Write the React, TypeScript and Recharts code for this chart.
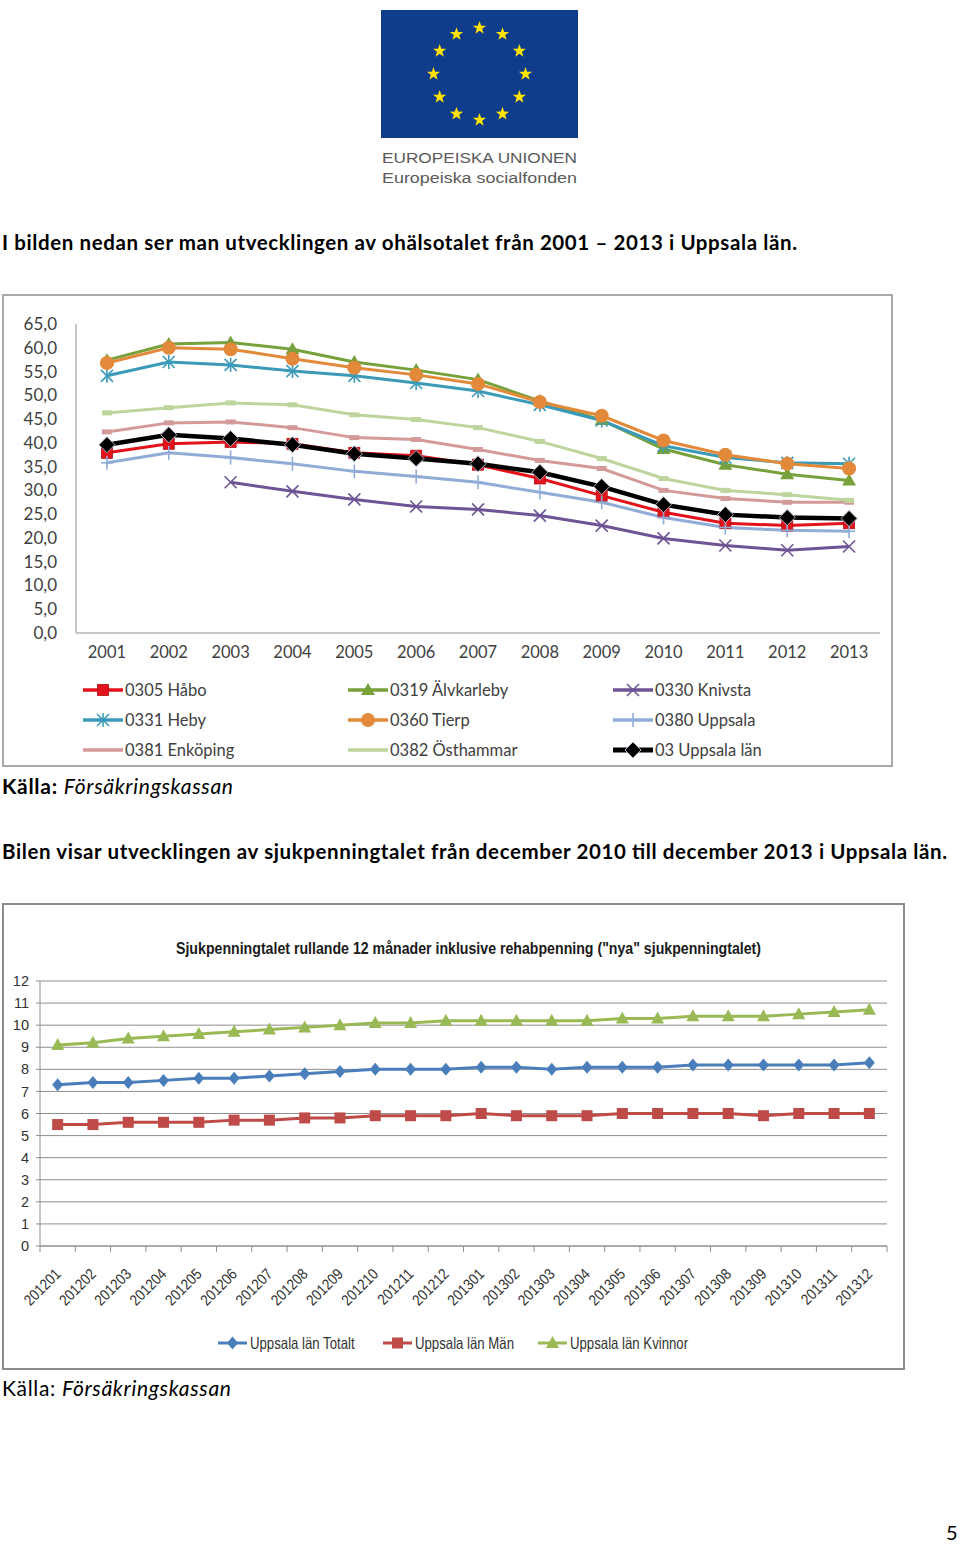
import React from 'react'
import { LineChart, Line, XAxis, YAxis, CartesianGrid } from 'recharts'

// ---- chart 1: ohälsotalet per kommun, 2001-2013
const years = ['2001', '2002', '2003', '2004', '2005', '2006', '2007', '2008', '2009', '2010', '2011', '2012', '2013']
const habo = [37.9, 39.8, 40.2, 39.8, 37.9, 37.3, 35.4, 32.5, 28.9, 25.4, 23.1, 22.6, 23.1]
const alvkarleby = [57.4, 60.8, 61.1, 59.7, 57.0, 55.3, 53.3, 48.8, 44.8, 38.7, 35.4, 33.4, 32.1]
const knivsta = [null, null, 31.7, 29.8, 28.1, 26.6, 26.0, 24.7, 22.6, 19.9, 18.4, 17.4, 18.2]
const heby = [54.1, 57.0, 56.4, 55.1, 54.1, 52.6, 50.9, 48.0, 44.7, 39.4, 36.9, 35.8, 35.6]
const tierp = [56.8, 60.0, 59.7, 57.7, 55.8, 54.3, 52.4, 48.6, 45.7, 40.5, 37.5, 35.6, 34.6]
const uppsala = [35.8, 37.9, 36.9, 35.6, 34.0, 32.9, 31.7, 29.6, 27.5, 24.3, 22.2, 21.6, 21.4]
const enkoping = [42.3, 44.2, 44.4, 43.2, 41.1, 40.7, 38.6, 36.3, 34.6, 30.0, 28.3, 27.5, 27.5]
const osthammar = [46.3, 47.4, 48.4, 48.0, 45.9, 44.9, 43.2, 40.3, 36.7, 32.5, 30.0, 29.1, 27.9]
const uppsalaLan = [39.6, 41.7, 40.9, 39.6, 37.7, 36.7, 35.6, 33.8, 30.8, 27.0, 24.9, 24.3, 24.1]
const ticks1 = [0, 5, 10, 15, 20, 25, 30, 35, 40, 45, 50, 55, 60, 65]

// ---- chart 2: sjukpenningtalet per månad
const months = [
  '201201', '201202', '201203', '201204', '201205', '201206', '201207', '201208', '201209', '201210', '201211', '201212',
  '201301', '201302', '201303', '201304', '201305', '201306', '201307', '201308', '201309', '201310', '201311', '201312'
]
const totalt = [7.3, 7.4, 7.4, 7.5, 7.6, 7.6, 7.7, 7.8, 7.9, 8.0, 8.0, 8.0, 8.1, 8.1, 8.0, 8.1, 8.1, 8.1, 8.2, 8.2, 8.2, 8.2, 8.2, 8.3]
const man = [5.5, 5.5, 5.6, 5.6, 5.6, 5.7, 5.7, 5.8, 5.8, 5.9, 5.9, 5.9, 6.0, 5.9, 5.9, 5.9, 6.0, 6.0, 6.0, 6.0, 5.9, 6.0, 6.0, 6.0]
const kvinnor = [9.1, 9.2, 9.4, 9.5, 9.6, 9.7, 9.8, 9.9, 10.0, 10.1, 10.1, 10.2, 10.2, 10.2, 10.2, 10.2, 10.3, 10.3, 10.4, 10.4, 10.4, 10.5, 10.6, 10.7]
const ticks2 = [0, 1, 2, 3, 4, 5, 6, 7, 8, 9, 10, 11, 12]

const series1 = [
  { key: 'habo', name: '0305 Håbo', values: habo, color: '#e3121b', shape: 'square', width: 3 },
  { key: 'alvkarleby', name: '0319 Älvkarleby', values: alvkarleby, color: '#77a13b', shape: 'triangle', width: 3 },
  { key: 'knivsta', name: '0330 Knivsta', values: knivsta, color: '#6e5494', shape: 'x', width: 3 },
  { key: 'heby', name: '0331 Heby', values: heby, color: '#3b9ab8', shape: 'star', width: 3 },
  { key: 'tierp', name: '0360 Tierp', values: tierp, color: '#e2893a', shape: 'circle', width: 3 },
  { key: 'uppsala', name: '0380 Uppsala', values: uppsala, color: '#91acd6', shape: 'plus', width: 3 },
  { key: 'enkoping', name: '0381 Enköping', values: enkoping, color: '#d39a99', shape: 'dash', width: 3 },
  { key: 'osthammar', name: '0382 Östhammar', values: osthammar, color: '#bdd59c', shape: 'dash', width: 3 },
  { key: 'uppsalaLan', name: '03 Uppsala län', values: uppsalaLan, color: '#000000', shape: 'diamond', width: 4.5 }
]

const series2 = [
  { key: 'totalt', name: 'Uppsala län Totalt', values: totalt, color: '#4a7ebb', shape: 'diamond2', width: 3 },
  { key: 'man', name: 'Uppsala län Män', values: man, color: '#be4b48', shape: 'square2', width: 3 },
  { key: 'kvinnor', name: 'Uppsala län Kvinnor', values: kvinnor, color: '#98b954', shape: 'triangle2', width: 3 }
]

const data1 = years.map((year, i) => {
  const row: any = { year }
  series1.forEach((s) => (row[s.key] = s.values[i]))
  return row
})

const data2 = months.map((month, i) => {
  const row: any = { month }
  series2.forEach((s) => (row[s.key] = s.values[i]))
  return row
})

const CALIBRI = 'Lato, "Open Sans", sans-serif'
const ARIAL = '"Liberation Sans", Arial, sans-serif'

function marker(shape: string, cx: number, cy: number, color: string, k?: string) {
  switch (shape) {
    case 'square':
      return <rect key={k} x={cx - 5.5} y={cy - 5.5} width={11} height={11} fill={color} stroke='#b01015' strokeWidth={0.8} />
    case 'square2':
      return <rect key={k} x={cx - 5.5} y={cy - 5.5} width={11} height={11} fill={color} />
    case 'triangle':
      return <polygon key={k} points={`${cx},${cy - 7} ${cx + 7},${cy + 5} ${cx - 7},${cy + 5}`} fill={color} />
    case 'triangle2':
      return <polygon key={k} points={`${cx},${cy - 7} ${cx + 6.5},${cy + 5} ${cx - 6.5},${cy + 5}`} fill={color} />
    case 'circle':
      return <circle key={k} cx={cx} cy={cy} r={7} fill={color} />
    case 'diamond':
      return <polygon key={k} points={`${cx},${cy - 8} ${cx + 8},${cy} ${cx},${cy + 8} ${cx - 8},${cy}`} fill='#000' stroke='#b5b5c8' strokeWidth={1} />
    case 'diamond2':
      return <polygon key={k} points={`${cx},${cy - 6.5} ${cx + 5.5},${cy} ${cx},${cy + 6.5} ${cx - 5.5},${cy}`} fill={color} />
    case 'x':
      return (
        <g key={k} stroke={color} strokeWidth={1.6}>
          <line x1={cx - 6} y1={cy - 6} x2={cx + 6} y2={cy + 6} />
          <line x1={cx - 6} y1={cy + 6} x2={cx + 6} y2={cy - 6} />
        </g>
      )
    case 'star':
      return (
        <g key={k} stroke={color} strokeWidth={1.6}>
          <line x1={cx - 6} y1={cy - 6} x2={cx + 6} y2={cy + 6} />
          <line x1={cx - 6} y1={cy + 6} x2={cx + 6} y2={cy - 6} />
          <line x1={cx} y1={cy - 7} x2={cx} y2={cy + 7} />
        </g>
      )
    case 'plus':
      return (
        <g key={k} stroke={color} strokeWidth={1.6}>
          <line x1={cx} y1={cy - 7} x2={cx} y2={cy + 7} />
          <line x1={cx - 6} y1={cy} x2={cx + 6} y2={cy} />
        </g>
      )
    case 'dash':
      return <rect key={k} x={cx - 5} y={cy - 2.5} width={10} height={5} fill={color} />
    default:
      return <g key={k} />
  }
}

const dotFor = (s: any) => (props: any) => {
  const { cx, cy, value, index } = props
  if (value == null || cy == null || isNaN(cy)) return <g key={`${s.key}-${index}`} />
  return marker(s.shape, cx, cy, s.color, `${s.key}-${index}`)
}

// chart 1 geometry
const C1_W = 887
const C1_LEFT = 72
const C1_RIGHT = 11
const BAND1 = (C1_W - C1_LEFT - C1_RIGHT) / years.length

// chart 2 geometry (used for boundary tick marks on the category axis)
const C2_W = 899
const C2_LEFT = 36
const C2_RIGHT = 16
const BAND2 = (C2_W - C2_LEFT - C2_RIGHT) / months.length

const MonthTick = (props: any) => {
  const { x, y, payload, index } = props
  const half = BAND2 / 2
  return (
    <g>
      <line x1={x - half} x2={x - half} y1={y} y2={y + 6} stroke='#8e8e8e' />
      {index === months.length - 1 && <line x1={x + half} x2={x + half} y1={y} y2={y + 6} stroke='#8e8e8e' />}
      <text
        transform={`translate(${x + 4},${y + 29}) rotate(-45) scale(0.86,1)`}
        textAnchor='end'
        fontFamily={ARIAL}
        fontSize={15.5}
        fill='#333'
      >
        {payload.value}
      </text>
    </g>
  )
}

const Chart1 = () => (
  <div
    style={{
      position: 'absolute',
      left: 2,
      top: 294,
      width: 891,
      height: 473,
      border: '2px solid #a9a9a9',
      boxSizing: 'border-box',
      background: '#fff'
    }}
  >
    <LineChart width={C1_W} height={469} data={data1} margin={{ top: 28, right: C1_RIGHT, bottom: 102, left: 0 }}>
      <XAxis
        dataKey='year'
        type='category'
        height={30}
        padding={{ left: BAND1 / 2, right: BAND1 / 2 }}
        axisLine={{ stroke: '#c6c6c6', strokeWidth: 2 }}
        tickLine={false}
        tickSize={0}
        tickMargin={13}
        tick={{ fill: '#404040', fontSize: 16.5, fontFamily: CALIBRI }}
        interval={0}
      />
      <YAxis
        width={C1_LEFT}
        domain={[0, 65]}
        ticks={ticks1}
        interval={0}
        axisLine={{ stroke: '#c6c6c6', strokeWidth: 2 }}
        tickLine={false}
        tickSize={0}
        tickMargin={19}
        tickFormatter={(v: number) => v.toFixed(1).replace('.', ',')}
        tick={{ fill: '#404040', fontSize: 17, fontFamily: CALIBRI }}
      />
      {series1.map((s) => (
        <Line
          key={s.key}
          dataKey={s.key}
          name={s.name}
          stroke={s.color}
          strokeWidth={s.width}
          type='linear'
          dot={dotFor(s)}
          activeDot={false}
          isAnimationActive={false}
        />
      ))}
    </LineChart>
    <svg width={887} height={100} style={{ position: 'absolute', left: 0, top: 375 }}>
      {series1.map((s, i) => {
        const col = i % 3
        const row = Math.floor(i / 3)
        const x0 = [79, 344, 609][col]
        const cy = 19 + row * 30
        return (
          <g key={s.key}>
            <line x1={x0} x2={x0 + 40} y1={cy} y2={cy} stroke={s.color} strokeWidth={s.width + 0.5} />
            {s.shape !== 'dash' && marker(s.shape, x0 + 20, cy, s.color)}
            <text x={x0 + 42} y={cy} dy='0.36em' fontFamily={CALIBRI} fontSize={16.5} fill='#404040'>
              {s.name}
            </text>
          </g>
        )
      })}
    </svg>
  </div>
)

const Chart2 = () => (
  <div
    style={{
      position: 'absolute',
      left: 2,
      top: 903,
      width: 903,
      height: 467,
      border: '2px solid #8c8c8c',
      boxSizing: 'border-box',
      background: '#fff'
    }}
  >
    <LineChart width={C2_W} height={463} data={data2} margin={{ top: 76, right: C2_RIGHT, bottom: 52, left: 0 }}>
      <CartesianGrid vertical={false} stroke='#8e8e8e' />
      <XAxis
        dataKey='month'
        type='category'
        height={70}
        padding={{ left: BAND2 / 2, right: BAND2 / 2 }}
        axisLine={{ stroke: '#8e8e8e' }}
        tickLine={false}
        tickSize={0}
        tickMargin={0}
        tick={<MonthTick />}
        interval={0}
      />
      <YAxis
        width={C2_LEFT}
        domain={[0, 12]}
        ticks={ticks2}
        interval={0}
        axisLine={{ stroke: '#8e8e8e' }}
        tickLine={{ stroke: '#8e8e8e' }}
        tickSize={4}
        tickMargin={7}
        tick={{ fill: '#333', fontSize: 14.5, fontFamily: ARIAL }}
      />
      {series2.map((s) => (
        <Line
          key={s.key}
          dataKey={s.key}
          name={s.name}
          stroke={s.color}
          strokeWidth={s.width}
          type='linear'
          dot={dotFor(s)}
          activeDot={false}
          isAnimationActive={false}
        />
      ))}
    </LineChart>
    <svg width={899} height={30} style={{ position: 'absolute', left: 0, top: 423 }}>
      {series2.map((s, i) => {
        const x0 = [214, 379, 534][i]
        const cy = 15
        return (
          <g key={s.key}>
            <line x1={x0} x2={x0 + 29} y1={cy} y2={cy} stroke={s.color} strokeWidth={3} />
            {marker(s.shape, x0 + 14.5, cy, s.color)}
            <text
              transform={`translate(${x0 + 32},${cy}) scale(0.8,1)`}
              dy='0.36em'
              fontFamily={ARIAL}
              fontSize={16.5}
              fill='#333'
            >
              {s.name}
            </text>
          </g>
        )
      })}
    </svg>
  </div>
)

const starPoints = (cx: number, cy: number, r: number) => {
  const pts: string[] = []
  for (let i = 0; i < 10; i++) {
    const rad = i % 2 === 0 ? r : r * 0.4
    const a = -Math.PI / 2 + (i * Math.PI) / 5
    pts.push(`${(cx + rad * Math.cos(a)).toFixed(2)},${(cy + rad * Math.sin(a)).toFixed(2)}`)
  }
  return pts.join(' ')
}

const PageText = () => (
  <svg width={960} height={1546} style={{ position: 'absolute', left: 0, top: 0, pointerEvents: 'none' }}>
    {/* EU-logga */}
    <rect x={381} y={10} width={197} height={128} fill='#0f3d8c' />
    {Array.from({ length: 12 }).map((_, i) => {
      const a = (i * Math.PI) / 6
      return <polygon key={i} points={starPoints(479.5 + 46 * Math.sin(a), 74 - 46 * Math.cos(a), 7)} fill='#ffe200' />
    })}
    <text x={382} y={163} fontFamily={ARIAL} fontSize={15.5} fill='#5a5a5a' textLength={195} lengthAdjust='spacingAndGlyphs'>
      EUROPEISKA UNIONEN
    </text>
    <text x={382} y={183} fontFamily={ARIAL} fontSize={15.5} fill='#5a5a5a' textLength={195} lengthAdjust='spacingAndGlyphs'>
      Europeiska socialfonden
    </text>

    <text x={2} y={250} fontFamily={CALIBRI} fontWeight='bold' fontSize={20.5} fill='#000' textLength={795}>
      I bilden nedan ser man utvecklingen av ohälsotalet från 2001 – 2013 i Uppsala län.
    </text>
    <text x={2} y={794} fontFamily={CALIBRI} fontSize={21} fill='#000' textLength={231}>
      <tspan fontWeight='bold'>Källa:</tspan> <tspan fontStyle='italic'>Försäkringskassan</tspan>
    </text>
    <text x={2} y={859} fontFamily={CALIBRI} fontWeight='bold' fontSize={20.5} fill='#000' textLength={945}>
      Bilen visar utvecklingen av sjukpenningtalet från december 2010 till december 2013 i Uppsala län.
    </text>
    <text x={176} y={954} fontFamily={ARIAL} fontWeight='bold' fontSize={17} fill='#1a1a1a' textLength={585} lengthAdjust='spacingAndGlyphs'>
      Sjukpenningtalet rullande 12 månader inklusive rehabpenning ("nya" sjukpenningtalet)
    </text>
    <text x={2} y={1396} fontFamily={CALIBRI} fontSize={21} fill='#000' textLength={229}>
      Källa: <tspan fontStyle='italic'>Försäkringskassan</tspan>
    </text>
    <text x={946} y={1540} fontFamily={CALIBRI} fontSize={20} fill='#000'>
      5
    </text>
  </svg>
)

export default function App() {
  return (
    <div style={{ position: 'absolute', left: 0, top: 0, width: 960, height: 1546, background: '#fff' }}>
      <Chart1 />
      <Chart2 />
      <PageText />
    </div>
  )
}
